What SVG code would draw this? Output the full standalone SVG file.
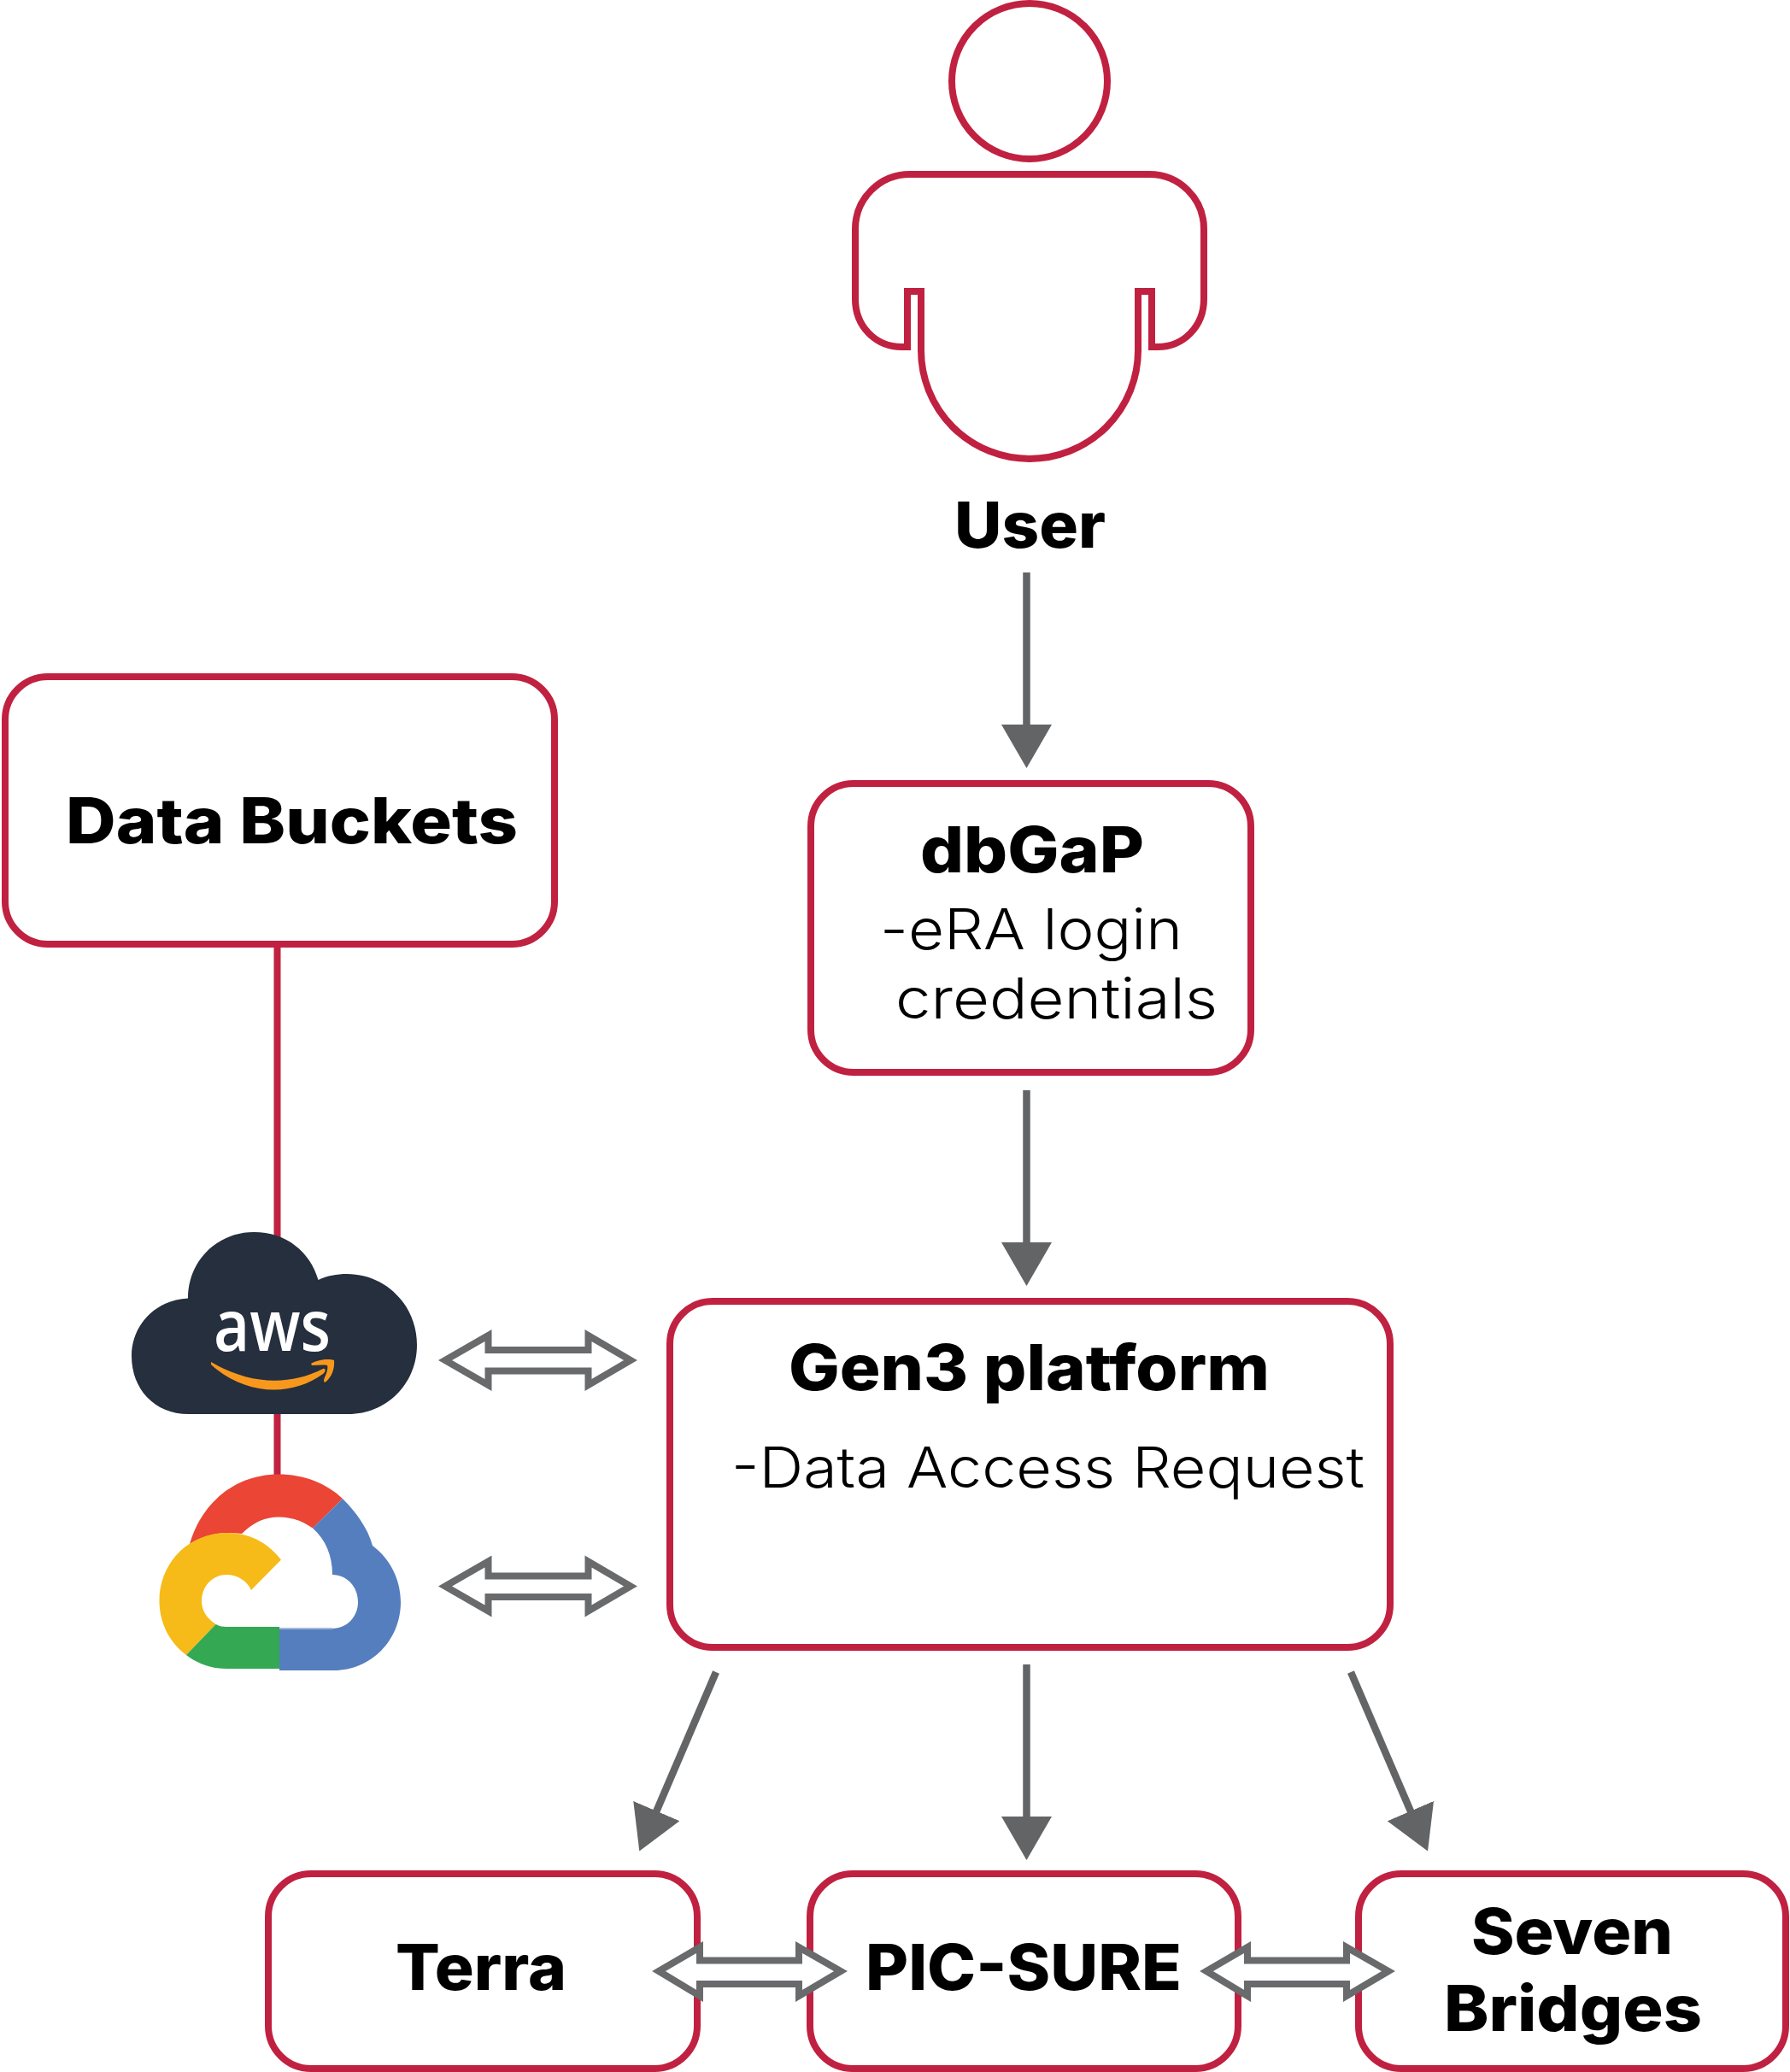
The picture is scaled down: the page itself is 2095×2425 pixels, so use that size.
<svg xmlns="http://www.w3.org/2000/svg" width="2095" height="2425" viewBox="0 0 2095 2425">
<style>
.box{fill:#fff;stroke:#c02141;stroke-width:8}
.outline{fill:#fff;stroke:#c02141;stroke-width:8;stroke-linejoin:miter}
.h{font-family:"Inter","Liberation Sans",sans-serif;font-weight:800;font-size:74px;fill:#000;text-anchor:start}
.l{font-family:"Inter","Lato",sans-serif;font-weight:300;font-size:66px;fill:#000;text-anchor:start}
.flow{stroke:#636466;stroke-width:8.5;fill:none;marker-end:url(#head)}
.link{stroke:#c02141;stroke-width:8;fill:none}
.both{fill:#fff;stroke:#696a6c;stroke-width:8;stroke-linejoin:miter;stroke-miterlimit:8}
</style>
<defs>
<marker id="head" markerUnits="userSpaceOnUse" markerWidth="51" markerHeight="59" refX="1" refY="29.5" orient="auto" viewBox="0 0 51 59"><path d="M0 0L51 29.5L0 59Z" fill="#636466"/></marker>
<path id="wide" d="M521 1592L571.500 1563V1580H688.500V1563L738 1592L688.500 1621V1604.500H571.500V1621Z"/>
<path id="short" d="M771 2307L819 2279V2294.500H935V2279L984 2307L935 2336V2322H819V2336Z"/>
</defs>

<g id="user">
<circle class="outline" cx="1205" cy="95" r="91"/>
<path class="outline" d="M1062 406V341H1078V410A127 127 0 0 0 1332 410V341H1348V406H1355C1385 406 1409 382 1409 350V268C1409 232 1380 204 1345 204H1065C1030 204 1001 232 1001 268V350C1001 382 1025 406 1055 406Z"/>
<text class="h" x="1117" y="641" textLength="177" lengthAdjust="spacingAndGlyphs">User</text>
</g>
<g id="data-buckets">
<rect class="box" x="6" y="792" width="643" height="313" rx="50"/>
<text class="h" x="77" y="987" textLength="529" lengthAdjust="spacingAndGlyphs">Data Buckets</text>
</g>
<g id="dbgap">
<rect class="box" x="949" y="917" width="515" height="338" rx="50"/>
<text class="h" x="1077" y="1021" textLength="262" lengthAdjust="spacingAndGlyphs">dbGaP</text>
<text class="l" x="1030" y="1111" textLength="354" lengthAdjust="spacingAndGlyphs">-eRA login</text>
<text class="l" x="1048" y="1192" textLength="377" lengthAdjust="spacingAndGlyphs">credentials</text>
</g>
<g id="gen3">
<rect class="box" x="784" y="1523" width="843" height="405" rx="50"/>
<text class="h" x="923" y="1627" textLength="563" lengthAdjust="spacingAndGlyphs">Gen3 platform</text>
<text class="l" x="856" y="1741" textLength="741" lengthAdjust="spacingAndGlyphs">-Data Access Request</text>
</g>
<g id="terra">
<rect class="box" x="314" y="2193" width="502" height="228" rx="50"/>
<text class="h" x="463" y="2329" textLength="200" lengthAdjust="spacingAndGlyphs">Terra</text>
</g>
<g id="pic-sure">
<rect class="box" x="948" y="2193" width="501" height="228" rx="50"/>
<text class="h" x="1013" y="2329" textLength="370" lengthAdjust="spacingAndGlyphs">PIC-SURE</text>
</g>
<g id="seven-bridges">
<rect class="box" x="1590" y="2193" width="500" height="228" rx="50"/>
<text class="h" x="1722" y="2287" textLength="236" lengthAdjust="spacingAndGlyphs">Seven</text>
<text class="h" x="1690" y="2377" textLength="302" lengthAdjust="spacingAndGlyphs">Bridges</text>
</g>

<g id="connectors">
<path class="link" d="M324.500 1105V1760"/>
<path class="flow" d="M1201.500 670V849"/>
<path class="flow" d="M1201.500 1276V1455"/>
<path class="flow" d="M1201.500 1948V2127"/>
<path class="flow" d="M838 1957L768 2120.500"/>
<path class="flow" d="M1581 1957L1651.300 2120.500"/>
<use href="#wide" class="both"/>
<use href="#wide" class="both" y="264.500"/>
<use href="#short" class="both"/>
<use href="#short" class="both" x="641"/>
</g>

<g id="aws">
<path fill="#252f3e" d="M221 1655C180 1655 154 1625 154 1587C154 1550 183 1521 220 1519.500C220 1475 255 1442 297 1442C335 1442 363 1465 372.500 1498C383 1493 394 1491 406 1491C452 1491 488 1528 488 1574C488 1620 452 1655 408 1655Z"/>
<text x="250" y="1581" font-family="Open Sans,Lato,sans-serif" font-weight="600" font-size="84" fill="#fff" textLength="137" lengthAdjust="spacingAndGlyphs">aws</text>
<path fill="#f7981d" d="M247 1594C288 1618 335 1624 378 1602C382 1601 381 1606 378 1608C340 1636 285 1632 247 1597Z"/>
<path fill="#f7981d" d="M364 1596C372 1591 385 1590 391 1592C392 1602 388 1612 381 1617.500C378 1618 379 1615 380 1612C383 1606 384 1600 383 1598C378 1597 371 1598 365 1598Z"/>
</g>
<g id="google-cloud">
<path fill="#ea4535" d="M222 1807C236 1758 276 1725.500 326 1725.500C356 1725.500 382 1736 401 1754L366 1788.500C354 1780 341 1775.500 326 1775.500C309 1775.500 295 1783 283 1795C276 1794 270 1794 263 1794C248 1795 234 1800 222 1807Z"/>
<path fill="#557ebf" d="M401 1754C418 1771 431 1790 436 1809C456 1824 469 1848 469 1875C469 1920 434 1955 391 1955H327V1906H389C406 1906 419 1892 419 1875C419 1857 406 1843 389 1843C389 1820 381 1802 366 1788.500Z"/>
<path fill="#f6bb18" d="M329 1825.500C313 1805 292 1794 265 1794C221 1794 186.500 1829 186.500 1873.500C186.500 1899 198 1922 218 1937L252.600 1901C242 1894 236 1885 236 1873.500C236 1856 249 1843 265 1843C278 1843 289 1850 294 1861Z"/>
<path fill="#34a853" d="M252.600 1901C256 1903 260 1904 265 1904H327V1953H265C247 1953 231 1947 218 1937Z"/>
<path stroke="#a0b8dc" stroke-width="2" d="M327 1906H389"/>
</g>
</svg>
